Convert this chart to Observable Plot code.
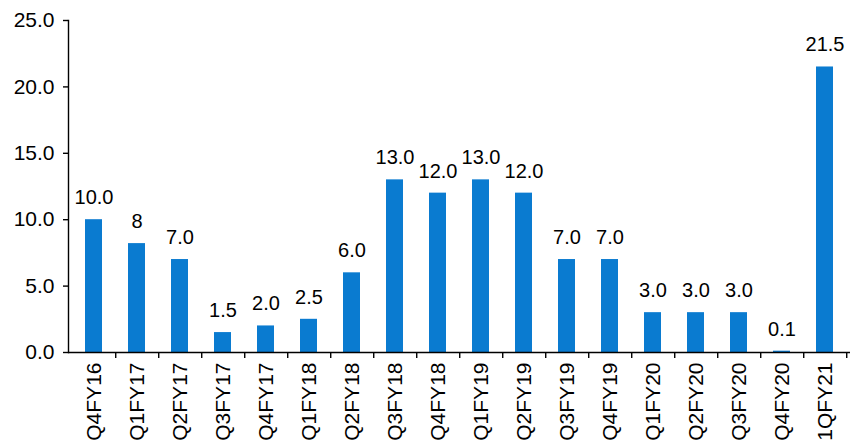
<!DOCTYPE html>
<html>
<head>
<meta charset="utf-8">
<script src="https://cdn.jsdelivr.net/npm/d3@7"></script>
<script src="https://cdn.jsdelivr.net/npm/@observablehq/plot@0.6"></script>
<style>
  html, body { margin: 0; padding: 0; background: #fff; }
  #chart svg { display: block; }
</style>
</head>
<body>
<div id="chart"></div>
<script>
const quarters = ["Q4FY16","Q1FY17","Q2FY17","Q3FY17","Q4FY17","Q1FY18","Q2FY18","Q3FY18","Q4FY18","Q1FY19","Q2FY19","Q3FY19","Q4FY19","Q1FY20","Q2FY20","Q3FY20","Q4FY20","1QFY21"];
const values = [10.0, 8.2, 7.0, 1.5, 2.0, 2.5, 6.0, 13.0, 12.0, 13.0, 12.0, 7.0, 7.0, 3.0, 3.0, 3.0, 0.1, 21.5];
const labels = ["10.0","8","7.0","1.5","2.0","2.5","6.0","13.0","12.0","13.0","12.0","7.0","7.0","3.0","3.0","3.0","0.1","21.5"];
const yTicks = [0, 5, 10, 15, 20, 25];

const data = quarters.map((q, i) => ({q, v: values[i], label: labels[i]}));

const W = 864, H = 446;
const mL = 68, mR = 14, mT = 20, mB = 94;
const step = (W - mL - mR) / quarters.length;

const chart = Plot.plot({
  width: W,
  height: H,
  marginLeft: mL,
  marginRight: mR,
  marginTop: mT,
  marginBottom: mB,
  style: {fontFamily: "'Liberation Sans', Arial, sans-serif", fontSize: "20px", color: "#000", background: "#fff"},
  x: {domain: quarters, paddingInner: 0.61, paddingOuter: 0.305, align: 0.5, label: null},
  y: {domain: [0, 25], ticks: yTicks, label: null},
  marks: [
    Plot.barY(data, {x: "q", y: "v", fill: "#0A7BD0"}),
    Plot.text(data, {x: "q", y: "v", text: "label", dy: -22, fontSize: 20, fill: "#000"}),
    Plot.frame({anchor: "left", stroke: "#000", strokeWidth: 1.4}),
    Plot.ruleY([0], {stroke: "#000", strokeWidth: 1.4}),
    Plot.axisY({ticks: yTicks, tickFormat: d => d.toFixed(1), tickSize: 5, tickPadding: 9, fontSize: 21, stroke: "#000", strokeWidth: 1.4, label: null}),
    Plot.axisX({tickFormat: () => "", tickSize: 6, dx: step / 2, stroke: "#000", strokeWidth: 1.4, label: null}),
    Plot.axisX({tickSize: 0, tickPadding: 10, tickRotate: -90, textAnchor: "end", fontSize: 21, label: null})
  ]
});
document.getElementById("chart").appendChild(chart);
</script>
</body>
</html>
